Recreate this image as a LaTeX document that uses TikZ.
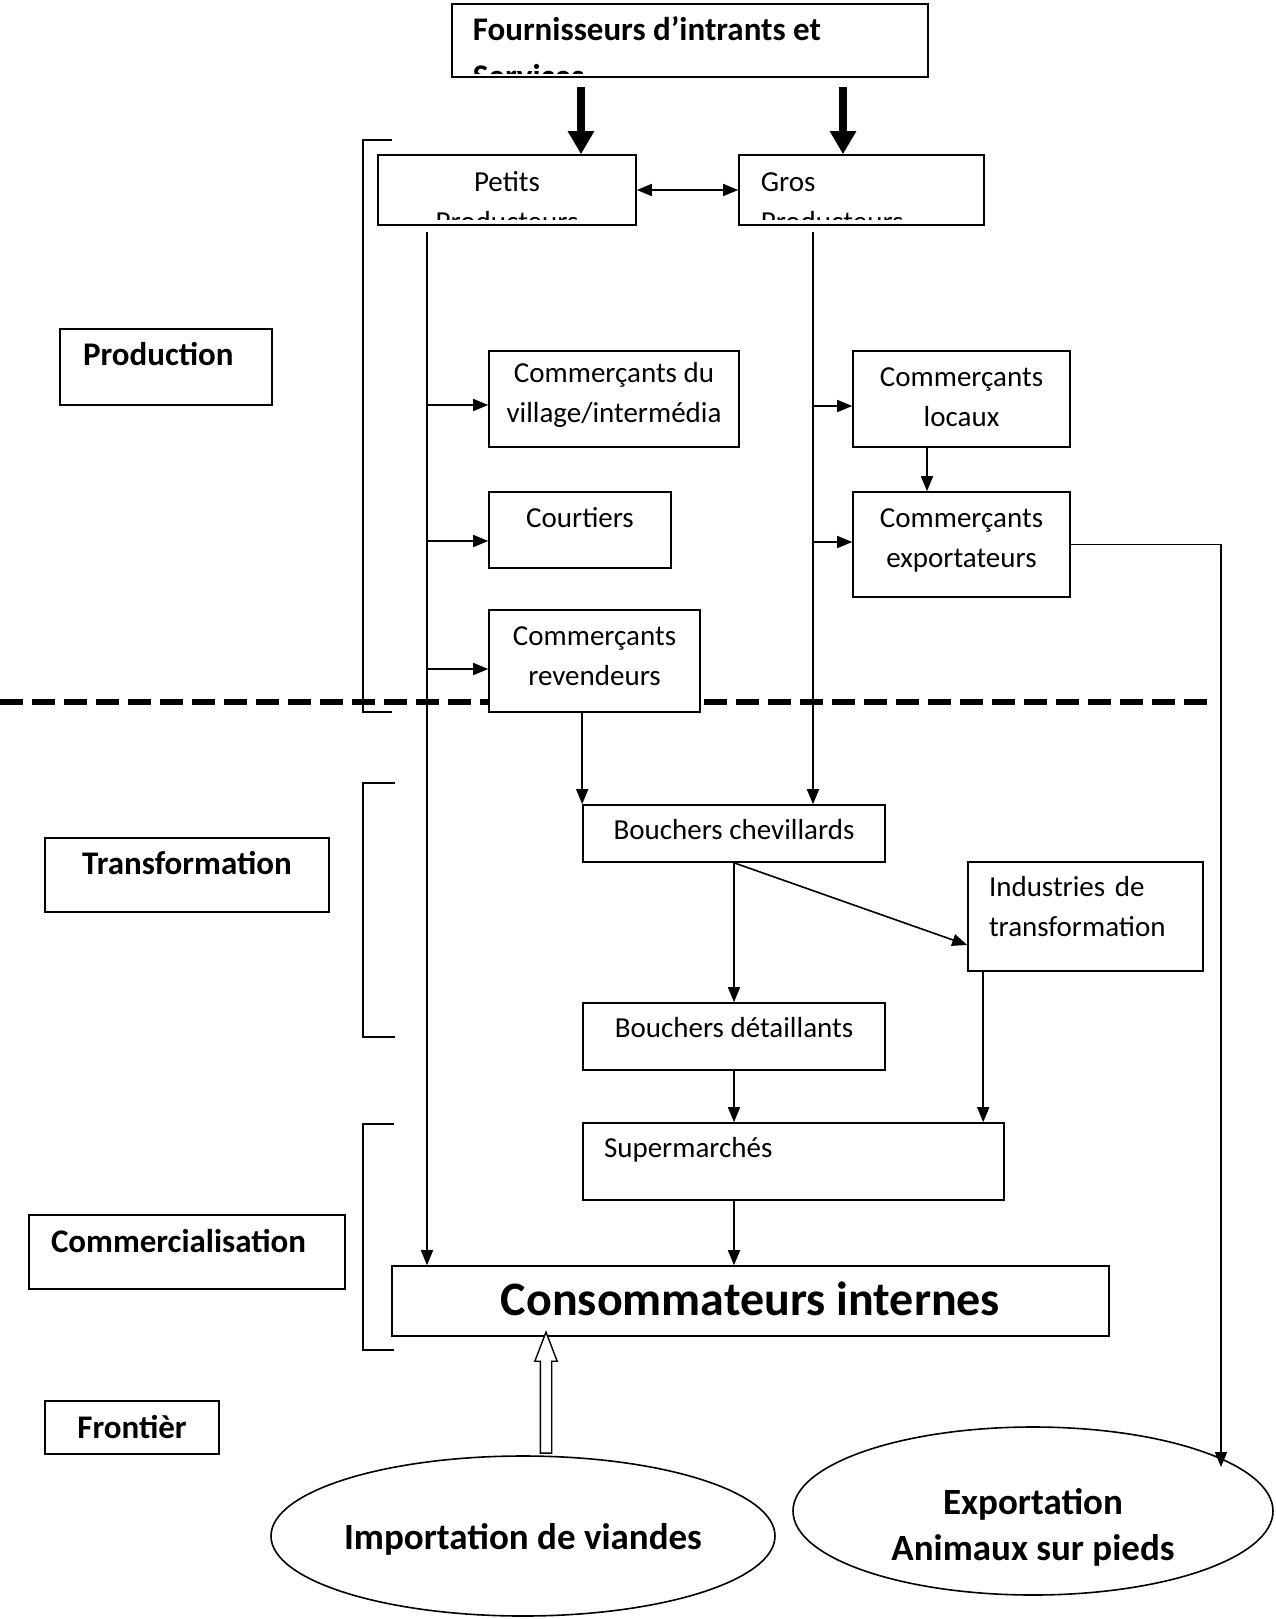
\documentclass[tikz,border=0pt]{standalone}
\usepackage{fontspec}
\setmainfont{Carlito}
\usetikzlibrary{arrows.meta, shapes.geometric, shapes.arrows}

\tikzset{
	box/.style={draw, line width=1.6pt, fill=white, inner sep=0pt},
	reg/.style={font=\fontsize{29}{40}\selectfont},
	lab/.style={font=\fontsize{33}{42}\selectfont\bfseries},
	big/.style={font=\fontsize{37}{46}\selectfont\bfseries},
	cliptxt/.style={inner sep=0pt, minimum width=0pt, minimum height=0pt},
	link/.style={line width=1.6pt, ->},
	feed/.style={line width=8pt, -{Triangle[length=23pt, width=25pt]}},
	brace/.style={line width=1.5pt},
}

\begin{document}
\begin{tikzpicture}[x=1pt, y=-1pt, >={Triangle[length=15pt, width=12pt]}]
	\useasboundingbox (0,0) rectangle (1275,1619);
	\draw[line width=6pt, dash pattern=on 23pt off 9pt] (0,702) -- (1215,702);
	\foreach \ya/\yb/\xt in {140/712/392, 783/1037/395, 1124/1350/394}
		\draw[brace] (\xt,\ya) -| (363,\yb) -- (\xt,\yb);

	\node[box, lab, minimum width=212pt, minimum height=76pt, text width=166pt, align=left, text height=0pt, text depth=4pt] (prod) at (166,367) {Production};
	\node[box, lab, minimum width=284pt, minimum height=74pt, align=center, text height=0pt, text depth=2pt] (transf) at (187,875) {Transformation};
	\node[box, lab, minimum width=316pt, minimum height=74pt, text width=272pt, align=left, text height=0pt, text depth=0pt] (commer) at (187,1252) {Commercialisation};
	\node[box, lab, minimum width=174pt, minimum height=53pt, align=center, text height=21pt, text depth=0pt] (front) at (132,1427.5) {Frontièr};

	\node[box, minimum width=476pt, minimum height=73pt, path picture={
		\clip ([yshift=4pt]path picture bounding box.south west) rectangle (path picture bounding box.north east);
		\node[cliptxt, font=\fontsize{33}{47}\selectfont\bfseries, align=left, anchor=base west] (fourntxt) at ([xshift=20pt, yshift=-83pt]path picture bounding box.north west) {Fournisseurs d’intrants et\\Services};
	}] (fourn) at (690,40.5) {};
	\node[box, minimum width=258pt, minimum height=70pt, path picture={
		\clip ([yshift=6pt]path picture bounding box.south west) rectangle (path picture bounding box.north east);
		\node[cliptxt, reg, align=center, anchor=base] (petitstxt) at ([yshift=-76pt]path picture bounding box.north) {Petits\\Producteurs};
	}] (petits) at (507,190) {};
	\node[box, minimum width=245pt, minimum height=70pt, path picture={
		\clip ([yshift=6pt]path picture bounding box.south west) rectangle (path picture bounding box.north east);
		\node[cliptxt, reg, align=left, anchor=base west] (grostxt) at ([xshift=21pt, yshift=-76pt]path picture bounding box.north west) {Gros\\Producteurs};
	}] (gros) at (861.5,190) {};

	\node[box, reg, minimum width=250pt, minimum height=96pt, align=center, text height=46pt, text depth=0pt] (village) at (614,399) {Commerçants du\\village/intermédia};
	\node[box, reg, minimum width=182pt, minimum height=76pt, align=center, text height=0pt, text depth=6pt] (courtiers) at (580,530) {Courtiers};
	\node[box, reg, minimum width=211pt, minimum height=102pt, align=center, text height=48pt, text depth=0pt] (reven) at (594.5,661) {Commerçants\\revendeurs};
	\node[box, reg, minimum width=217pt, minimum height=96pt, align=center, text height=54pt, text depth=0pt] (locaux) at (961.5,399) {Commerçants\\locaux};
	\node[box, reg, minimum width=217pt, minimum height=105pt, align=center, text height=45pt, text depth=0pt] (comexp) at (961.5,544.5) {Commerçants\\exportateurs};

	\node[box, reg, minimum width=302pt, minimum height=57pt, align=center, text height=11pt, text depth=0pt] (chev) at (734,833.5) {Bouchers chevillards};
	\node[box, reg, minimum width=235pt, minimum height=109pt, text width=193pt, align=left, text height=0pt, text depth=41pt] (indus) at (1085.5,916.5) {Industries de\\transformation};
	\node[box, reg, minimum width=302pt, minimum height=67pt, align=center, text height=1pt, text depth=0pt] (detail) at (734,1036.5) {Bouchers détaillants};
	\node[box, reg, minimum width=421pt, minimum height=77pt, text width=379pt, align=left, text height=0pt, text depth=9pt] (super) at (793.5,1161.5) {Supermarchés};
	\node[box, font=\fontsize{48}{56}\selectfont\bfseries, minimum width=717pt, minimum height=70pt, align=center, text height=28pt, text depth=0pt] (conso) at (750.5,1301) {Consommateurs internes};

	\node[box, ellipse, big, minimum width=504pt, minimum height=160pt, inner xsep=-40pt, text height=26pt, text depth=0pt] (imp) at (523,1536) {Importation de viandes};
	\node[box, ellipse, big, minimum width=480pt, minimum height=168pt, align=center, text height=98pt, text depth=0pt] (expo) at (1033,1511) {Exportation\\Animaux sur pieds};
	\node[draw, fill=white, line width=1.4pt, single arrow, shape border rotate=90, minimum height=121pt, single arrow head extend=5.5pt, single arrow tip angle=42, inner sep=5pt] (imparrow) at (546,1400) {};

	\coordinate (lcol) at (427,0);
	\coordinate (rcol) at (813,0);
	\coordinate (expin) at (1221,1467);
	\coordinate (pin) at ([xshift=74pt]petits.north);
	\coordinate (gin) at ([xshift=-18.5pt]gros.north);
	\coordinate (lx) at ([xshift=-34.5pt]locaux.south);
	\coordinate (ix) at ([xshift=16pt]indus.south west);

	\draw[feed, shorten <=9pt] (pin |- fourn.south) -- (pin);
	\draw[feed, shorten <=9pt] (gin |- fourn.south) -- (gin);
	\draw[link, <->] (petits.east) -- (gros.west);
	\draw[link, shorten <=6pt] (petits.south -| lcol) -- (conso.north -| lcol);
	\draw[link, shorten <=6pt] (gros.south -| rcol) -- (chev.north -| rcol);
	\foreach \n/\dy in {village/-6pt, courtiers/-11pt, reven/-8pt}
		\draw[link] ([yshift=\dy]\n.west -| lcol) -- ([yshift=\dy]\n.west);
	\foreach \n/\dy in {locaux/-7pt, comexp/2.5pt}
		\draw[link] ([yshift=\dy]\n.west -| rcol) -- ([yshift=\dy]\n.west);
	\draw[link] (lx) -- (lx |- comexp.north);
	\draw[link] (comexp.east) -| (expin);
	\draw[link] (reven.south -| chev.north west) -- (chev.north west);
	\draw[link] (chev.south) -- (detail.north);
	\draw[link] (chev.south) -- ([yshift=-28.5pt]indus.west);
	\draw[link] (detail.south) -- (detail.south |- super.north);
	\draw[link] (ix) -- (ix |- super.north);
	\draw[link] (detail.south |- super.south) -- (detail.south |- conso.north);
\end{tikzpicture}
\end{document}
